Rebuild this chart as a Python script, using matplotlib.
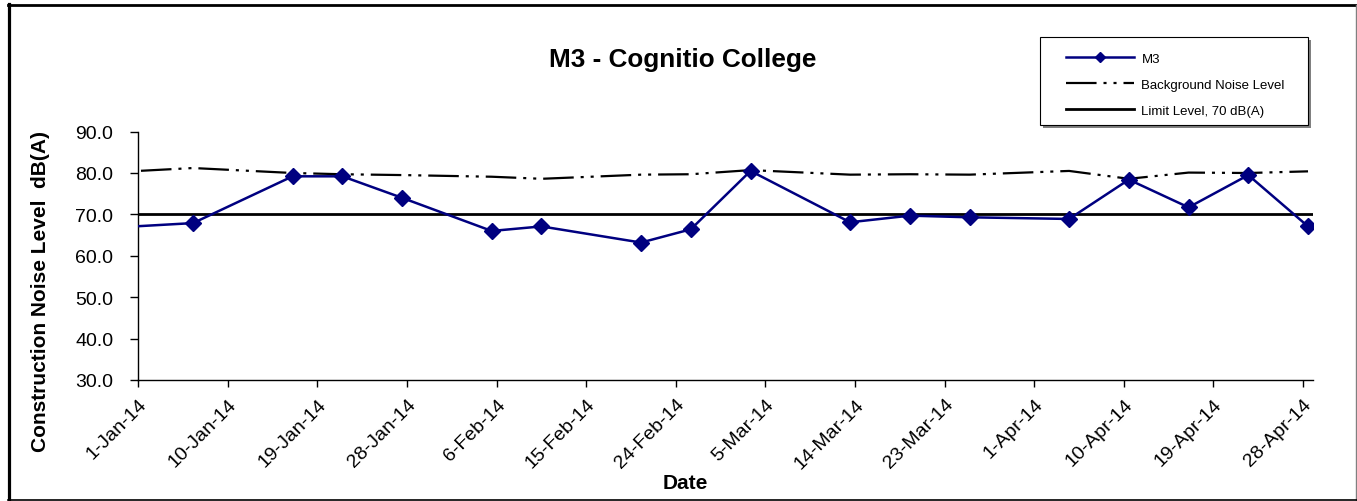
import matplotlib
matplotlib.use("Agg")
import matplotlib.pyplot as plt
from matplotlib.lines import Line2D
from matplotlib.patches import Rectangle
import pandas as pd

plt.rcParams['font.family'] = ['Liberation Sans', 'DejaVu Sans']
plt.rcParams['lines.scale_dashes'] = False

# ---- data ----
dates = ['2013-12-26', '2014-01-06', '2014-01-16', '2014-01-21', '2014-01-27',
         '2014-02-05', '2014-02-10', '2014-02-20', '2014-02-25', '2014-03-03',
         '2014-03-13', '2014-03-19', '2014-03-25', '2014-04-04', '2014-04-10',
         '2014-04-16', '2014-04-22', '2014-04-28']
m3 = [66.4, 67.9, 79.2, 79.2, 74.0, 66.0, 67.1, 63.2, 66.4, 80.5,
      68.1, 69.7, 69.3, 68.9, 78.4, 71.7, 79.5, 67.1]
background = [79.8, 81.2, 80.0, 79.7, 79.5, 79.1, 78.6, 79.6, 79.7, 80.7,
              79.6, 79.7, 79.6, 80.5, 78.6, 80.1, 80.0, 80.4]
limit_level = 70.0
axis_start = '2014-01-01'
axis_end = '2014-04-29'
tick_step_days = 9
y_ticks = [30, 40, 50, 60, 70, 80, 90]

title = 'M3 - Cognitio College'
ylabel = 'Construction Noise Level  dB(A)'
xlabel = 'Date'
series_labels = ['M3', 'Background Noise Level', 'Limit Level, 70 dB(A)']

# ---- figure ----
W, H = 1357, 502
fig = plt.figure(figsize=(W / 100, H / 100), dpi=100)
ax = fig.add_axes([138.3 / W, 1 - 381 / H, (1313 - 138.3) / W, (381 - 132.6) / H])

x = pd.to_datetime(dates) + pd.Timedelta(hours=12)
x0 = pd.Timestamp(axis_start)
x1 = pd.Timestamp(axis_end)

l_m3, = ax.plot(x, m3, color='#000080', lw=1.8, marker='D', ms=7.8, mew=1,
                markevery=list(range(1, len(m3))), zorder=4)
l_bg, = ax.plot(x, background, color='black', lw=1.6,
                linestyle=(0, (22.0, 5.0, 2.2, 5.0, 2.2, 5.0)), zorder=3)
l_lim = ax.axhline(limit_level, color='black', lw=2.0, zorder=2)

ax.set_xlim(x0, x1)
ax.set_ylim(y_ticks[0], y_ticks[-1])
ax.set_yticks(y_ticks)
ax.yaxis.set_major_formatter(matplotlib.ticker.FuncFormatter(lambda v, p: f'{v:.1f}'))

ticks = pd.date_range(x0, pd.Timestamp('2014-04-28'), freq=f'{tick_step_days}D')
ax.set_xticks(ticks)
ax.set_xticklabels([f'{t.day}-{t:%b-%y}' for t in ticks], rotation=45,
                   ha='right', va='top', rotation_mode='anchor')

for s in ['top', 'right']:
    ax.spines[s].set_visible(False)
ax.spines['left'].set_linewidth(1.0)
ax.spines['bottom'].set_linewidth(1.0)
ax.tick_params(axis='y', direction='out', length=6, width=1, labelsize=14, pad=12)
ax.tick_params(axis='x', direction='out', length=5, width=1, labelsize=14, pad=6)

fig.text(683 / W, 1 - 60 / H, title, ha='center', va='center',
         fontsize=18.8, fontweight='bold')
fig.text(685 / W, 1 - 484 / H, xlabel, ha='center', va='center',
         fontsize=15, fontweight='bold')
fig.text(41 / W, 1 - 291 / H, ylabel, ha='center', va='center', rotation=90,
         fontsize=15, fontweight='bold')

# legend box with shadow
bx0, by0, bx1, by1 = 1040, 38, 1308, 126
fig.patches.append(Rectangle(((bx0 + 3) / W, 1 - (by1 + 3) / H), (bx1 - bx0) / W,
                             (by1 - by0) / H, transform=fig.transFigure,
                             facecolor='#808080', edgecolor='none', zorder=5))
fig.patches.append(Rectangle((bx0 / W, 1 - by1 / H), (bx1 - bx0) / W, (by1 - by0) / H,
                             transform=fig.transFigure, facecolor='white',
                             edgecolor='black', lw=0.8, zorder=6))
leg = fig.legend([l_m3, l_bg, l_lim], series_labels, loc='upper left',
                 bbox_to_anchor=(1055 / W, 1 - 43 / H), frameon=False,
                 fontsize=9.5, handlelength=5.2, handletextpad=0.55,
                 labelspacing=1.05, numpoints=1, borderpad=0.3)
leg.set_zorder(7)
for h in leg.legend_handles:
    if h.get_marker() == 'D':
        h.set_markersize(5.5)

# outer chart border
fig.add_artist(Line2D([9 / W, 9 / W], [1 - 5 / H, 1 - 501 / H], color='black', lw=2.3,
                      transform=fig.transFigure))
fig.add_artist(Line2D([8 / W, 1357 / W], [1 - 6 / H, 1 - 6 / H], color='black', lw=2.0,
                      transform=fig.transFigure))
fig.add_artist(Line2D([1356 / W, 1356 / W], [1 - 6 / H, 1 - 501 / H], color='#808080',
                      lw=1.0, transform=fig.transFigure))
fig.add_artist(Line2D([8 / W, 1357 / W], [1 - 500.5 / H, 1 - 500.5 / H], color='black',
                      lw=1.2, transform=fig.transFigure))

fig.savefig('out.png', dpi=100)
